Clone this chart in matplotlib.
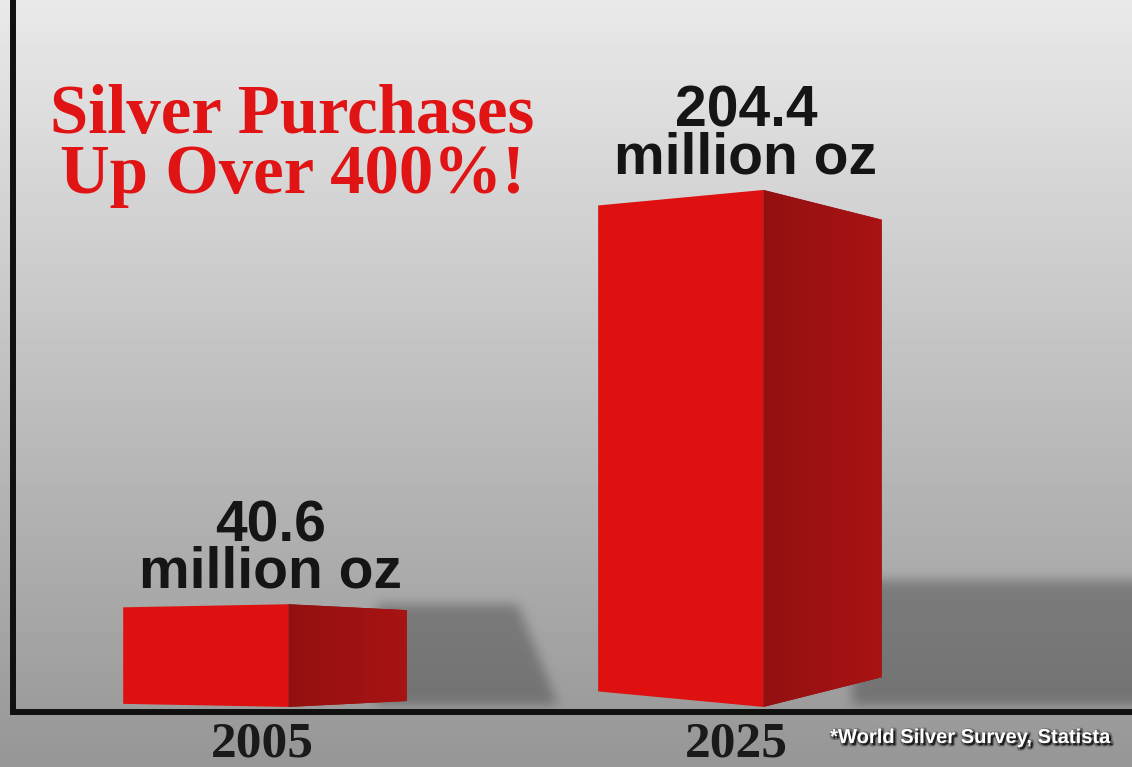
import numpy as np
import matplotlib
matplotlib.use('Agg')
import matplotlib.pyplot as plt
import matplotlib.patheffects as pe
from matplotlib.patches import Polygon
from matplotlib.path import Path

years = ['2005', '2025']
values = [40.6, 204.4]
unit_label = 'million oz'
title_lines = ['Silver Purchases', 'Up Over 400%!']
source_note = '*World Silver Survey, Statista'

W, H = 1132, 767
FRONT = '#de1010'
SIDE_DARK = (0.58, 0.065, 0.065)
SIDE_LIGHT = (0.66, 0.075, 0.075)


def blur1d(a, r, axis):
    pad = [(0, 0), (0, 0)]
    pad[axis] = (r + 1, r)
    c = np.cumsum(np.pad(a, pad, mode='edge'), axis=axis)
    n = a.shape[axis]
    hi = np.take(c, np.arange(2 * r + 1, 2 * r + 1 + n), axis=axis)
    lo = np.take(c, np.arange(0, n), axis=axis)
    return (hi - lo) / (2 * r + 1)


def blur(a, r, passes=3):
    for _ in range(passes):
        a = blur1d(a, r, 0)
        a = blur1d(a, r, 1)
    return a


def bar_edges(i):
    # left of front face, front/side corner, right of side face
    return i - 0.292, i + 0.056, i + 0.305


def main():
    fig = plt.figure(figsize=(W / 100, H / 100), dpi=100)
    bg = fig.add_axes([0, 0, 1, 1], zorder=0)
    ax = fig.add_axes([13 / W, 55 / H, 1 - 13 / W, 712 / H], zorder=1)
    ax.set_facecolor('none')
    xlim = (-0.524, 1.832)
    ylim = (-2, 279.5)
    ax.set_xlim(xlim)
    ax.set_ylim(ylim)

    # background: vertical grey gradient with soft bar shadows
    xs = np.arange(W) + 0.5
    ys = np.arange(H) + 0.5
    gx, gy = np.meshgrid(xs, ys)
    ytop = H - gy
    grad = np.clip((233 - 76 * ytop / 700) / 255, 0, 1)
    mask = np.zeros_like(grad)
    pts = np.column_stack([gx.ravel(), gy.ravel()])
    for i, v in enumerate(values):
        left, corner, right = bar_edges(i)
        x_r, y_base = ax.transData.transform((right, 0))
        _, y_top = ax.transData.transform((right, min(v, 50)))
        _, y_bar = ax.transData.transform((right, v))
        w = 70 + 0.4 * (y_bar - y_base)
        shadow = Path([(x_r - 30, y_base + 2), (x_r + w + 40, y_base + 2),
                       (x_r + w, y_top), (x_r - 30, y_top)])
        mask = np.maximum(mask, shadow.contains_points(pts).reshape(grad.shape).astype(float))
    mask = blur(mask, 5)
    img = grad * (1 - 0.27 * mask)
    bg.imshow(img, cmap='gray', vmin=0, vmax=1, extent=(0, W, 0, H),
              origin='lower', interpolation='bilinear', aspect='auto')
    bg.set_xlim(0, W)
    bg.set_ylim(0, H)
    bg.axis('off')

    # 3d style bars
    side_cmap = np.array([SIDE_DARK, SIDE_LIGHT])
    for i, v in enumerate(values):
        left, corner, right = bar_edges(i)
        mid = v / 2
        front = Polygon([(left, mid - 0.94 * mid), (corner, 0), (corner, v), (left, mid + 0.94 * mid)],
                        closed=True, facecolor=FRONT, edgecolor='none', zorder=3)
        side = Polygon([(corner, 0), (right, mid - 0.885 * mid), (right, mid + 0.885 * mid), (corner, v)],
                       closed=True, facecolor=SIDE_DARK, edgecolor='none', zorder=3)
        ax.add_patch(front)
        ax.add_patch(side)
        shade = np.linspace(0, 1, 50)[None, :, None] * (side_cmap[1] - side_cmap[0]) + side_cmap[0]
        im = ax.imshow(shade, extent=(corner, right, 0, v), aspect='auto',
                       interpolation='bilinear', zorder=3.1)
        im.set_clip_path(side)

        # value + unit as one two-line label
        ax.annotate(f'{v:.1f}\n{unit_label}', xy=(i + 0.019, v), xytext=(0, 12),
                    textcoords='offset points', ha='center', va='baseline',
                    multialignment='center', linespacing=0.82,
                    fontfamily='Liberation Sans', fontweight='bold', fontsize=41,
                    color='#151515', zorder=4)

    ax.set_xlim(xlim)
    ax.set_ylim(ylim)

    ax.set_xticks(range(len(years)), years, fontfamily='Liberation Serif',
                  fontweight='bold', fontsize=37, color='#1a1a1a')
    ax.tick_params(axis='x', length=0, pad=7)
    ax.set_yticks([])
    for s in ['top', 'right']:
        ax.spines[s].set_visible(False)
    for s in ['left', 'bottom']:
        ax.spines[s].set_linewidth(4.3)
        ax.spines[s].set_color('#111111')
        ax.spines[s].set_capstyle('projecting')

    # title
    fig.text(292 / W, 1 - 193 / H, '\n'.join(title_lines), ha='center', va='baseline',
             multialignment='center', linespacing=0.92,
             fontfamily='Liberation Serif', fontweight='bold', fontsize=49.5,
             color='#e01414')

    fig.text(1110 / W, 1 - 743 / H, source_note, ha='right', va='baseline',
             fontfamily='Liberation Sans', fontweight='bold', fontsize=14.5, color='white',
             path_effects=[pe.Stroke(linewidth=3, foreground='black', alpha=0.3, offset=(1, -1)),
                           pe.SimplePatchShadow(offset=(1.5, -1.5), shadow_rgbFace='black', alpha=0.75),
                           pe.Normal()])

    fig.savefig('out.png', dpi=100)


if __name__ == '__main__':
    main()
